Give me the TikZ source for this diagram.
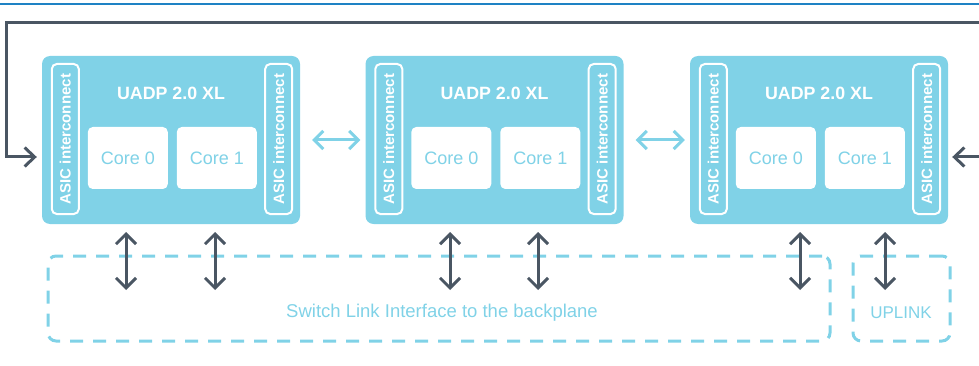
\documentclass[tikz,border=0pt]{standalone}
\usepackage{fontspec}
\setmainfont{Liberation Sans}
\usetikzlibrary{arrows.meta,calc}
\definecolor{lblue}{HTML}{80D2E7}
\definecolor{dgray}{HTML}{4A5663}
\definecolor{topblue}{HTML}{1E82C4}
\tikzset{
  asicbox/.style={draw=none,fill=lblue,rounded corners=8pt,minimum width=258pt,minimum height=168pt,inner sep=0pt},
  ibar/.style={draw=white,line width=2pt,rounded corners=5pt,minimum width=27pt,minimum height=150pt,inner sep=0pt},
  ibartext/.style={text=white,font=\fontsize{15}{16}\selectfont\bfseries,rotate=90},
  corebox/.style={fill=white,rounded corners=5pt,minimum width=80pt,minimum height=62pt,inner sep=0pt,text=lblue,font=\fontsize{18}{20}\selectfont},
  titletext/.style={text=white,font=\fontsize{17.8}{20}\selectfont\bfseries},
  lbiarrow/.style={draw=lblue,line width=3pt,{Straight Barb[length=9pt,width=18pt]}-{Straight Barb[length=9pt,width=18pt]}},
  dbiarrow/.style={draw=dgray,line width=3pt,{Straight Barb[length=10pt,width=20pt]}-{Straight Barb[length=10pt,width=20pt]}},
  dashbox/.style={draw=lblue,line width=3pt,dash pattern=on 13pt off 10pt,rounded corners=8pt},
  lbltext/.style={text=lblue,font=\fontsize{18.5}{20}\selectfont},
}
\begin{document}
\begin{tikzpicture}[x=1pt,y=-1pt]
\useasboundingbox (0,0) rectangle (979,366);
% top rule
\draw[topblue,line width=2pt] (0,4) -- (979,4);

% three ASIC boxes
\foreach \n/\cx in {1/171,2/494.5,3/819}{
  \node[asicbox] (b\n) at (\cx,140) {};
  \node[ibar] (l\n) at ($(b\n.west)+(23.5,-1)$) {};
  \node[ibartext] at (l\n) {ASIC interconnect};
  \node[ibar] (r\n) at ($(b\n.east)+(-21.5,-1)$) {};
  \node[ibartext] at (r\n) {ASIC interconnect};
  \node[titletext] (t\n) at (\cx,93) {UADP 2.0 XL};
  \node[corebox] (c0\n) at ($(b\n.west)+(86,18)$) {Core 0};
  \node[corebox] (c1\n) at ($(b\n.west)+(175,18)$) {Core 1};
}

% arrows between boxes
\draw[lbiarrow,shorten <=12pt,shorten >=5pt] (b1.east) -- (b2.west);
\draw[lbiarrow,shorten <=12pt,shorten >=5pt] (b2.east) -- (b3.west);

% loop connector
\coordinate (lp1) at (6,23);
\coordinate (lp2) at (992,23);
\draw[draw=dgray,line width=3pt,{Straight Barb[length=10pt,width=19pt]}-{Straight Barb[length=10pt,width=19pt]},shorten <=5pt,shorten >=4pt]
  (b1.west |- 0,157) -| (lp1) -- (lp2) |- (b3.east |- 0,157);

% dashed boxes
\node[dashbox,minimum width=782pt,minimum height=85pt,inner sep=0pt] (sl) at (439,298.5) {};
\node[lbltext] (slt) at (442,313) {Switch Link Interface to the backplane};
\node[dashbox,minimum width=97pt,minimum height=85pt,inner sep=0pt] (up) at (901.5,298.5) {};
\node[lbltext,font=\fontsize{17}{20}\selectfont] (upt) at (901,313) {UPLINK};

% vertical arrows
\foreach \n/\x/\y in {1/126/224,2/215/224,3/450/224,4/538/224,5/800/224,6/885/224}{
  \coordinate (va\n) at (\x,\y);
  \coordinate (vb\n) at (\x,290);
  \draw[dbiarrow,shorten <=8pt] (va\n) -- (vb\n);
}
\end{tikzpicture}
\end{document}
